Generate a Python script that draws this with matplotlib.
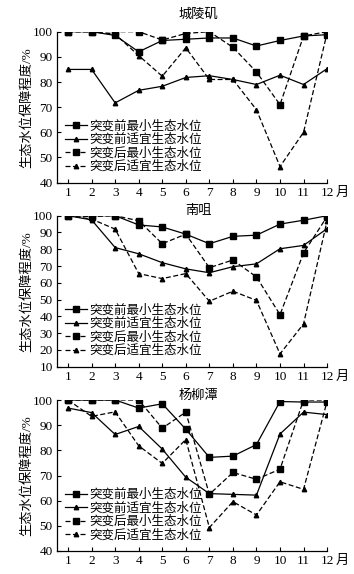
import matplotlib
matplotlib.use("Agg")
import matplotlib.pyplot as plt

plt.rcParams['font.family'] = ['Liberation Serif', 'Noto Sans CJK SC']
plt.rcParams['font.size'] = 9

months = list(range(1, 13))
labels = ['突变前最小生态水位', '突变前适宜生态水位', '突变后最小生态水位', '突变后适宜生态水位']

# 城陵矶
clj_pre_min = [100, 100, 98.5, 92, 96.5, 97, 97.5, 97.5, 94.3, 96.5, 98.3, 98.8]
clj_pre_fit = [85, 85, 71.7, 76.7, 78.3, 81.8, 82.5, 81, 79, 82.7, 79, 85.3]
clj_post_min = [100, 100, 100, 100, 96.7, 99.3, 100, 93.8, 84, 71, 98.3, 100]
clj_post_fit = [100, 100, 99, 90.5, 82.3, 93.6, 81, 81, 69, 46.4, 60, 99.5]

# 南咀
nz_pre_min = [100, 100, 100, 94.5, 93.3, 89, 83.3, 87.7, 88.4, 95, 97.3, 100]
nz_pre_fit = [100, 97.5, 81, 77.3, 72, 68.3, 66, 69.6, 71.3, 80.3, 82.3, 92.3]
nz_post_min = [100, 99.5, 100, 97, 83.3, 89, 69, 73.6, 63.5, 41, 77.8, 99.5]
nz_post_fit = [100, 98, 92, 65.5, 62.5, 65.5, 49, 55, 49.5, 17.6, 35.5, 97]

# 杨柳潭
ylt_pre_min = [100, 100, 100, 96.8, 98.5, 88.4, 77.2, 77.7, 82.3, 99.4, 99.2, 99.2]
ylt_pre_fit = [96.8, 95, 86.3, 89.5, 80.5, 69.3, 62.8, 62.5, 62.2, 86.5, 95.2, 94.2]
ylt_post_min = [100, 100, 100, 100, 88.8, 95.2, 62.5, 71.2, 68.5, 72.5, 100, 100]
ylt_post_fit = [100, 93.5, 95.3, 81.8, 74.8, 84.3, 49.3, 59.6, 54.3, 67.5, 64.5, 99.5]

panels = [
    ('城陵矶', [clj_pre_min, clj_pre_fit, clj_post_min, clj_post_fit], 40, [40, 50, 60, 70, 80, 90, 100], 0.9448, 0.9740),
    ('南咀', [nz_pre_min, nz_pre_fit, nz_post_min, nz_post_fit], 10, list(range(10, 101, 10)), 0.6242, 0.6330),
    ('杨柳潭', [ylt_pre_min, ylt_pre_fit, ylt_post_min, ylt_post_fit], 40, [40, 50, 60, 70, 80, 90, 100], 0.3031, 0.3110),
]

styles = [('-', 's', 4.2), ('-', '^', 3.2), ('--', 's', 4.2), ('--', '^', 3.2)]

fig = plt.figure(figsize=(3.54, 5.74), dpi=100, facecolor='white')

for title, series, ymin, yticks, top, title_y in panels:
    ax = fig.add_axes([0.161, top - 0.263, 0.763, 0.263])
    for vals, (ls, mk, ms), lab in zip(series, styles, labels):
        line, = ax.plot(months, vals, color='black', linestyle=ls, marker=mk,
                        markersize=ms, linewidth=0.9, label=lab)
        if ls == '--':
            line.set_dashes((4, 2))
    ax.set_xlim(0.53, 12)
    ax.set_ylim(ymin, 100)
    ax.set_xticks(months)
    ax.set_yticks(yticks)
    ax.tick_params(direction='in', length=3, width=0.8, labelsize=9.5, pad=3)
    ax.spines['top'].set_visible(False)
    ax.spines['right'].set_visible(False)
    ax.spines['left'].set_linewidth(0.9)
    ax.spines['bottom'].set_linewidth(0.9)
    ax.set_ylabel('生态水位保障程度/%', fontsize=9.5, labelpad=0)
    ax.annotate('月', xy=(1, 0), xycoords='axes fraction', xytext=(6, -7.5),
                textcoords='offset points', fontsize=9.5, ha='left', va='center')
    fig.text(0.56, title_y, title, fontsize=9.5, ha='center', va='center')
    ax.legend(loc='lower left', frameon=False, fontsize=9, handlelength=1.8,
              handletextpad=0.2, labelspacing=0.1, borderaxespad=0.0,
              bbox_to_anchor=(0.01, 0.03))

fig.savefig('out.png', dpi=100)
